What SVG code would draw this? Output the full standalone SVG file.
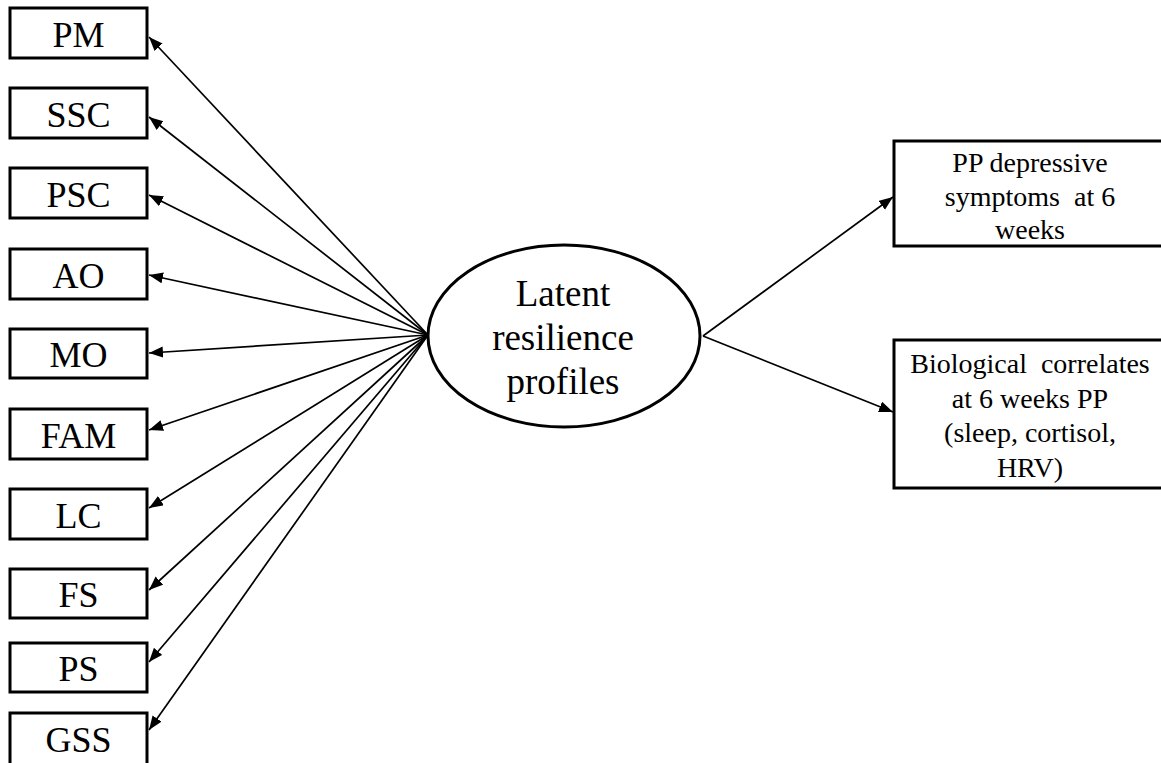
<svg xmlns="http://www.w3.org/2000/svg" width="1161" height="763" viewBox="0 0 1161 763">
<style>
.box{fill:#fff;stroke:#000;stroke-width:3}
.lbl{font-family:"Liberation Serif","Times New Roman",serif;font-size:36px;fill:#000;text-anchor:middle}
.mid{font-family:"Liberation Serif","Times New Roman",serif;font-size:37px;fill:#000;text-anchor:middle}
.rt{font-family:"Liberation Serif","Times New Roman",serif;font-size:28px;fill:#000;text-anchor:middle}
.edge{stroke:#000;stroke-width:1.7;fill:none;marker-end:url(#ah)}
</style>
<defs>
<marker id="ah" markerUnits="userSpaceOnUse" markerWidth="15" markerHeight="12" refX="14" refY="5.5" orient="auto">
<path d="M0,0 L14,5.5 L0,11 z" fill="#000"/>
</marker>
</defs>
<rect width="1161" height="763" fill="#fff"/>
<g id="connectors">
<line class="edge" x1="428" y1="335" x2="149" y2="37"/>
<line class="edge" x1="428" y1="335" x2="149" y2="117"/>
<line class="edge" x1="428" y1="335" x2="149" y2="195"/>
<line class="edge" x1="428" y1="335" x2="149" y2="275"/>
<line class="edge" x1="428" y1="335" x2="149" y2="353"/>
<line class="edge" x1="428" y1="335" x2="149" y2="430"/>
<line class="edge" x1="428" y1="335" x2="149" y2="508"/>
<line class="edge" x1="428" y1="335" x2="149" y2="590"/>
<line class="edge" x1="428" y1="335" x2="149" y2="662"/>
<line class="edge" x1="428" y1="335" x2="149" y2="730"/>
<line class="edge" x1="703" y1="336" x2="893" y2="197"/>
<line class="edge" x1="703" y1="336" x2="893" y2="412"/>
</g>
<g id="node-PM"><rect class="box" x="10" y="8" width="137" height="50"/><text class="lbl" x="78.5" y="47">PM</text></g>
<g id="node-SSC"><rect class="box" x="10" y="88" width="137" height="50"/><text class="lbl" x="78.5" y="127">SSC</text></g>
<g id="node-PSC"><rect class="box" x="10" y="168" width="137" height="50"/><text class="lbl" x="78.5" y="207">PSC</text></g>
<g id="node-AO"><rect class="box" x="10" y="249" width="137" height="50"/><text class="lbl" x="78.5" y="288">AO</text></g>
<g id="node-MO"><rect class="box" x="10" y="329" width="137" height="49"/><text class="lbl" x="78.5" y="367">MO</text></g>
<g id="node-FAM"><rect class="box" x="10" y="409" width="137" height="50"/><text class="lbl" x="78.5" y="448">FAM</text></g>
<g id="node-LC"><rect class="box" x="10" y="489" width="137" height="50"/><text class="lbl" x="78.5" y="528">LC</text></g>
<g id="node-FS"><rect class="box" x="10" y="569" width="137" height="49"/><text class="lbl" x="78.5" y="607">FS</text></g>
<g id="node-PS"><rect class="box" x="10" y="643" width="137" height="49"/><text class="lbl" x="78.5" y="681">PS</text></g>
<g id="node-GSS"><rect class="box" x="10" y="713" width="137" height="60"/><text class="lbl" x="78.5" y="752">GSS</text></g>
<g id="node-latent">
<ellipse class="box" cx="564" cy="336" rx="136" ry="91"/>
<text class="mid" x="563" y="306">Latent</text>
<text class="mid" x="563" y="350">resilience</text>
<text class="mid" x="563" y="394">profiles</text>
</g>
<g id="node-depressive">
<rect class="box" x="894" y="141" width="280" height="105"/>
<text class="rt" x="1030" y="172">PP depressive</text>
<text class="rt" x="1030" y="206" xml:space="preserve">symptoms  at 6</text>
<text class="rt" x="1030" y="239">weeks</text>
</g>
<g id="node-biological">
<rect class="box" x="894" y="340" width="280" height="148"/>
<text class="rt" x="1030" y="373" xml:space="preserve">Biological  correlates</text>
<text class="rt" x="1030" y="408">at 6 weeks PP</text>
<text class="rt" x="1030" y="442">(sleep, cortisol,</text>
<text class="rt" x="1030" y="477">HRV)</text>
</g>
</svg>
